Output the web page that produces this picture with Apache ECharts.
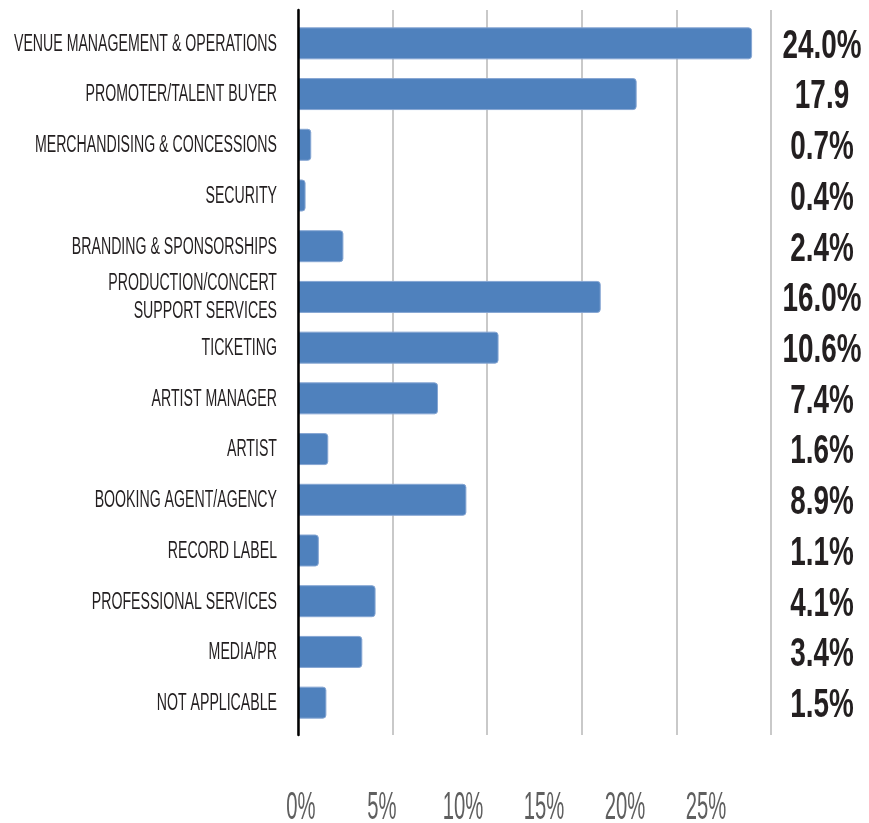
<!DOCTYPE html>
<html>
<head>
<meta charset="utf-8">
<script src="https://cdn.jsdelivr.net/npm/echarts@6/dist/echarts.min.js"></script>
<style>
  html, body { margin: 0; padding: 0; background: #fff; }
  #main { width: 869px; height: 823px; }
</style>
</head>
<body>
<div id="main"></div>
<script>
var categories = [
  'VENUE MANAGEMENT & OPERATIONS',
  'PROMOTER/TALENT BUYER',
  'MERCHANDISING & CONCESSIONS',
  'SECURITY',
  'BRANDING & SPONSORSHIPS',
  'PRODUCTION/CONCERT\nSUPPORT SERVICES',
  'TICKETING',
  'ARTIST MANAGER',
  'ARTIST',
  'BOOKING AGENT/AGENCY',
  'RECORD LABEL',
  'PROFESSIONAL SERVICES',
  'MEDIA/PR',
  'NOT APPLICABLE'
];
var shares = [24.0, 17.9, 0.7, 0.4, 2.4, 16.0, 10.6, 7.4, 1.6, 8.9, 1.1, 4.1, 3.4, 1.5];
var shareLabels = ['24.0%', '17.9', '0.7%', '0.4%', '2.4%', '16.0%', '10.6%', '7.4%', '1.6%', '8.9%', '1.1%', '4.1%', '3.4%', '1.5%'];
var tickValues = [0, 5, 10, 15, 20, 25];
var tickLabels = ['0%', '5%', '10%', '15%', '20%', '25%'];

var chart = echarts.init(document.getElementById('main'));

var fam = '"Liberation Sans", Arial, sans-serif';

// text squeezed horizontally to get the condensed look of the original
function squeezedText(x, y, text, opts) {
  return {
    type: 'text',
    x: x,
    y: y,
    scaleX: opts.scaleX,
    style: {
      text: text,
      font: opts.font,
      fill: opts.fill,
      align: opts.align,
      verticalAlign: 'middle',
      lineHeight: opts.lineHeight
    }
  };
}

chart.setOption({
  animation: false,
  backgroundColor: '#ffffff',
  grid: [
    { left: 298, width: 473, top: 18, height: 710, outerBoundsMode: 'none' },
    { left: 298, width: 473, top: 10, height: 725, outerBoundsMode: 'none' },
    { left: 301, width: 405, top: 780, height: 26, outerBoundsMode: 'none' }
  ],
  xAxis: [
    {
      gridIndex: 0, type: 'value', min: 0, max: 25, interval: 5,
      axisLine: { show: false }, axisTick: { show: false },
      axisLabel: { show: false }, splitLine: { show: false }
    },
    {
      gridIndex: 1, type: 'value', min: 0, max: 25, interval: 5,
      axisLine: { show: false }, axisTick: { show: false },
      axisLabel: { show: false },
      splitLine: { show: true, lineStyle: { color: '#c9c9c9', width: 2 } }
    },
    {
      gridIndex: 2, type: 'value', min: 0, max: 25, interval: 5,
      axisLine: { show: false }, axisTick: { show: false },
      axisLabel: { show: false }, splitLine: { show: false }
    }
  ],
  yAxis: [
    {
      gridIndex: 0, type: 'category', data: categories, inverse: true,
      axisLine: { show: false }, axisTick: { show: false },
      axisLabel: { show: false }, splitLine: { show: false }
    },
    {
      gridIndex: 1, type: 'value', min: 0, max: 1, z: 5,
      axisLine: { show: true, lineStyle: { color: '#000000', width: 2.5 } },
      axisTick: { show: false }, axisLabel: { show: false }, splitLine: { show: false }
    },
    {
      gridIndex: 2, type: 'value', min: 0, max: 1,
      axisLine: { show: false }, axisTick: { show: false },
      axisLabel: { show: false }, splitLine: { show: false }
    }
  ],
  series: [
    {
      type: 'bar',
      xAxisIndex: 0,
      yAxisIndex: 0,
      data: shares,
      barWidth: 32,
      itemStyle: {
        color: '#4f81bd',
        borderColor: '#86a6d3',
        borderWidth: 1,
        borderRadius: [0, 3, 3, 0]
      }
    },
    {
      // category names
      type: 'custom',
      xAxisIndex: 0,
      yAxisIndex: 0,
      clip: false,
      silent: true,
      data: categories.map(function (c, i) { return [0, i]; }),
      renderItem: function (params, api) {
        var pt = api.coord([0, api.value(1)]);
        return squeezedText(pt[0] - 21, pt[1] + 1, categories[params.dataIndex], {
          scaleX: 0.615, font: '23px ' + fam, fill: '#231f20', align: 'right', lineHeight: 28
        });
      }
    },
    {
      // value column on the right
      type: 'custom',
      xAxisIndex: 0,
      yAxisIndex: 0,
      clip: false,
      silent: true,
      data: shares.map(function (v, i) { return [v, i]; }),
      renderItem: function (params, api) {
        var pt = api.coord([api.value(0), api.value(1)]);
        return squeezedText(822, pt[1] + 3, shareLabels[params.dataIndex], {
          scaleX: 0.68, font: 'bold 41px ' + fam, fill: '#231f20', align: 'center'
        });
      }
    },
    {
      // bottom tick labels
      type: 'custom',
      xAxisIndex: 2,
      yAxisIndex: 2,
      clip: false,
      silent: true,
      data: tickValues.map(function (v) { return [v, 0]; }),
      renderItem: function (params, api) {
        var pt = api.coord([api.value(0), 0]);
        return squeezedText(pt[0], pt[1] + 2, tickLabels[params.dataIndex], {
          scaleX: 0.52, font: '39px ' + fam, fill: '#5f5f5f', align: 'center'
        });
      }
    }
  ]
});
</script>
</body>
</html>
